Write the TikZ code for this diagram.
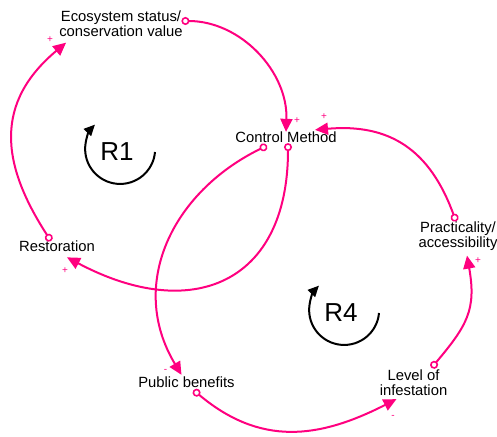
\documentclass[tikz,border=0pt]{standalone}
\usepackage{fontspec}
\setmainfont{Liberation Sans}
\usetikzlibrary{arrows.meta}
\definecolor{loopPink}{RGB}{255,0,127}

\begin{document}
\begin{tikzpicture}[x=1pt, y=1pt,
    var/.style={inner sep=0pt, align=center, font=\fontsize{14.8}{15}\selectfont},
    link/.style={loopPink, line width=2pt,
        {Circle[open, fill=white, length=8pt, width=8pt, line width=1.6pt]}-{Triangle[length=13pt, width=12pt]}},
    sign/.style={loopPink, inner sep=0pt, font=\fontsize{10}{10}\selectfont},
    loopname/.style={inner sep=0pt, font=\fontsize{26}{26}\selectfont},
    looparrow/.style={line width=2pt, -{Triangle[length=11pt, width=10pt]}}]
    \useasboundingbox (0,0) rectangle (497,436);

    % Variables
    \node[var] (eco)  at (121,412)    {Ecosystem status/\\conservation value};
    \node[var] (ctrl) at (286,298.5)  {Control Method};
    \node[var] (rest) at (57,189.3)   {Restoration};
    \node[var] (prac) at (458,200)    {Practicality/\\accessibility};
    \node[var] (pub)  at (186.5,53.5) {Public benefits};
    \node[var] (lev)  at (413.5,53)   {Level of\\infestation};

    % Loop labels
    \node[loopname] (r1) at (117,284) {R1};
    \node[loopname] (r4) at (341,123) {R4};
    \draw[looparrow] ([xshift=38]r1.center) arc[start angle=-5, end angle=-224, radius=35];
    \draw[looparrow] ([xshift=38]r4.center) arc[start angle=-5, end angle=-224, radius=35];

    % Causal links
    \draw[link] ([shift={(-1.5,3)}]eco.east) to[out=0, in=88] (ctrl.north);
    \draw[link] ([xshift=2]ctrl.south) to[out=-90, in=-28, looseness=1.45] ([shift={(10,-5)}]rest.south);
    \draw[link] ([xshift=-6]rest.north) to[out=123, in=-140, looseness=1.2] ([shift={(7,-5.5)}]eco.south west);
    \draw[link] ([shift={(-19,-2.5)}]ctrl.south) to[out=206, in=121, looseness=1.1] ([shift={(-5,2)}]pub.north);
    \draw[link] ([shift={(7,-2)}]pub.south) to[out=-40, in=-153, looseness=1.1] ([shift={(-17,-3)}]lev.south);
    \draw[link] ([shift={(18,2)}]lev.north) to[out=50, in=-80, looseness=1.2] ([shift={(9,-5)}]prac.south);
    \draw[link] ([xshift=-2]prac.north) to[out=110, in=5, looseness=1.15] ([shift={(29,2)}]ctrl.north);

    % Polarities
    \node[sign] (sEco)   at (50,396)   {+};
    \node[sign] (sCtrlA) at (297,315)  {+};
    \node[sign] (sCtrlB) at (324,319)  {+};
    \node[sign] (sRest)  at (65,165.5) {+};
    \node[sign] (sPrac)  at (478,175)  {+};
    \node[sign] (sPub)   at (165.5,65) {-};
    \node[sign] (sLev)   at (393,19.5) {-};
\end{tikzpicture}
\end{document}
